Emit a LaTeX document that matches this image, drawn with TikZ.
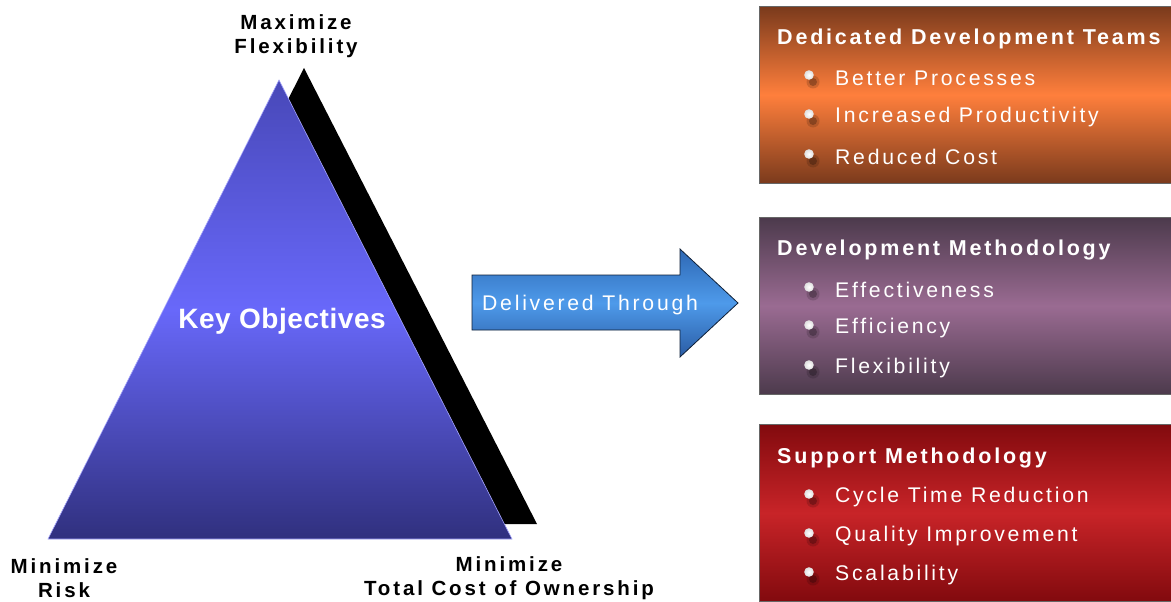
\documentclass[tikz,border=0pt]{standalone}
\usepackage{fontspec}
\setmainfont{Liberation Sans}
\newfontfamily\itemfont[LetterSpace=13]{Liberation Sans}
\newfontfamily\titlefont[LetterSpace=13]{Liberation Sans}
\newfontfamily\labelfont[LetterSpace=14]{Liberation Sans}
\newfontfamily\keyfont[LetterSpace=2]{Liberation Sans}
\definecolor{triTop}{HTML}{4848B8}
\definecolor{triMid}{HTML}{6868FA}
\definecolor{triBot}{HTML}{30307E}
\definecolor{orTop}{HTML}{7A3A1C}
\definecolor{orMid}{HTML}{FF7F3C}
\definecolor{puTop}{HTML}{4C3A4C}
\definecolor{puMid}{HTML}{9A6B92}
\definecolor{reTop}{HTML}{820A0E}
\definecolor{reMid}{HTML}{C82428}
\definecolor{arTop}{HTML}{2E68B4}
\definecolor{arMid}{HTML}{4E9AEA}
\definecolor{arBot}{HTML}{2A5CA4}
\tikzset{
  panel/.style={draw=black!60, line width=0.8pt, anchor=north west, minimum width=430, minimum height=177, inner sep=0pt},
  title/.style={anchor=west, text=white, font=\titlefont\bfseries\fontsize{21.5}{25}\selectfont, inner sep=0pt},
  entry/.style={anchor=west, text=white, font=\itemfont\fontsize{21.2}{25}\selectfont, inner sep=0pt},
  corner/.style={align=center, text=black, font=\labelfont\bfseries\fontsize{20.5}{24}\selectfont, inner sep=0pt},
}
\newcommand{\mybullet}[2]{%
  \fill[black, opacity=0.15] (#1+4,#2+7) circle (6.5);
  \fill[black, opacity=0.25] (#1+4,#2+7) circle (4);
  \shade[inner color=white, outer color=white!75!gray] (#1,#2) circle (4.8);
}
\begin{document}
\begin{tikzpicture}[x=1pt,y=-1pt]
\useasboundingbox (0,0) rectangle (1171,602);
\fill[white] (0,0) rectangle (1171,602);
% triangle shadow and triangle
\fill[black] (304,68) -- (537,524) -- (73,524) -- cycle;
\shade[top color=triTop, bottom color=triBot, middle color=triMid, draw=triMid!60!white, line width=0.6pt]
  (279,80) -- (512,539) -- (48,539) -- cycle;
\node[text=white, font=\keyfont\bfseries\fontsize{28}{30}\selectfont, inner sep=0pt] (key) at (282,321) {Key Objectives};
% corner labels
\node[corner] (maxflex) at (296,36) {Maximize\\Flexibility};
\node[corner] (minrisk) at (64,578) {Minimize\\Risk};
\node[corner] (mintco) at (509,578) {Minimize\\Total Cost of Ownership};
% arrow
\shade[top color=arTop, bottom color=arBot, middle color=arMid, draw=black!70!arTop, line width=0.8pt]
  (472,275) -- (680,275) -- (680,249) -- (738,303) -- (680,357) -- (680,330) -- (472,330) -- cycle;
\node[entry] (through) at (482,305) {Delivered Through};
% panel 1
\node[panel, top color=orTop, bottom color=orTop, middle color=orMid] (p1) at (759,6) {};
\node[title] (t1) at (777,39) {Dedicated Development Teams};
\mybullet{809}{75}
\node[entry] (a1) at (835,78) {Better Processes};
\mybullet{809}{114}
\node[entry] (a2) at (835,117) {Increased Productivity};
\mybullet{809}{154}
\node[entry] (a3) at (835,157) {Reduced Cost};
% panel 2
\node[panel, top color=puTop, bottom color=puTop, middle color=puMid] (p2) at (759,217) {};
\node[title] (t2) at (777,250) {Development Methodology};
\mybullet{809}{287}
\node[entry] (b1) at (835,290) {Effectiveness};
\mybullet{809}{325}
\node[entry] (b2) at (835,328) {Efficiency};
\mybullet{809}{365}
\node[entry] (b3) at (835,368) {Flexibility};
% panel 3
\node[panel, top color=reTop, bottom color=reTop, middle color=reMid] (p3) at (759,424) {};
\node[title] (t3) at (777,458) {Support Methodology};
\mybullet{809}{494}
\node[entry] (c1) at (835,497) {Cycle Time Reduction};
\mybullet{809}{533}
\node[entry] (c2) at (835,536) {Quality Improvement};
\mybullet{809}{572}
\node[entry] (c3) at (835,575) {Scalability};
\end{tikzpicture}
\end{document}
